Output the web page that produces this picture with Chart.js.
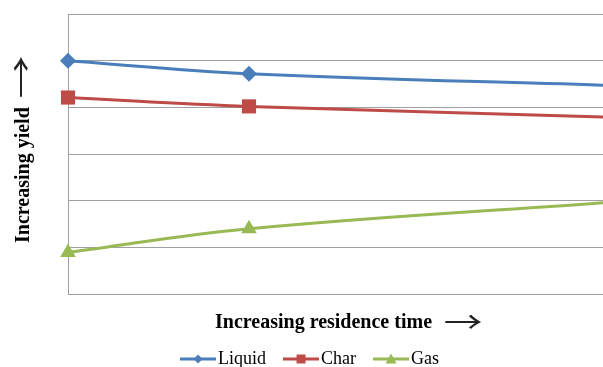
<!DOCTYPE html>
<html>
<head>
<meta charset="utf-8">
<script src="https://cdn.jsdelivr.net/npm/chart.js@4.4.0/dist/chart.umd.min.js"></script>
<style>
  html, body { margin: 0; padding: 0; background: #fff; }
</style>
</head>
<body>
<canvas id="chart" width="603" height="367"></canvas>
<script>
// residence time positions (arbitrary units), last point lies past the cropped right edge
const times = [0, 1, 3];
const liquid = [5.0, 4.72, 4.47];
const charYield = [4.21, 4.02, 3.79];
const gas = [0.89, 1.4, 1.97];
const seriesNames = ['Liquid', 'Char', 'Gas'];
const xTitle = 'Increasing residence time';
const yTitle = 'Increasing yield';
const arrow = '\u2192';
const colors = ['#4a7ebb', '#be4b48', '#98b954'];
const markers = ['rectRot', 'rect', 'triangle'];
const markerSizes = [8, 10, 9];
const yMax = 6;
const xMax = 2.956;

const grey = '#a0a0a0';
const serif = "'Liberation Serif', 'Times New Roman', serif";
const arrowFont = "29px 'Noto Sans CJK JP'";

// small line+marker picture for legend entries
function legendSample(color, style) {
  const c = document.createElement('canvas');
  c.width = 36; c.height = 12;
  const g = c.getContext('2d');
  g.strokeStyle = color; g.fillStyle = color; g.lineWidth = 3;
  g.beginPath(); g.moveTo(0, 6); g.lineTo(36, 6); g.stroke();
  g.beginPath();
  if (style === 'rectRot') {
    g.moveTo(18, 1.5); g.lineTo(22.5, 6); g.lineTo(18, 10.5); g.lineTo(13.5, 6);
  } else if (style === 'rect') {
    g.rect(13.5, 1.5, 9, 9);
  } else {
    g.moveTo(18, 0.5); g.lineTo(23.5, 10.5); g.lineTo(12.5, 10.5);
  }
  g.closePath(); g.fill();
  return c;
}

function makeSet(i, values) {
  return {
    label: seriesNames[i],
    data: times.map((t, k) => ({ x: t, y: values[k] })),
    borderColor: colors[i],
    backgroundColor: colors[i],
    borderWidth: 3,
    tension: 0.4,
    clip: 12,
    pointStyle: markers[i],
    pointRadius: times.map((t) => t <= xMax ? markerSizes[i] : 0),
    pointBorderWidth: 0,
    pointHoverRadius: 0,
    legendPic: legendSample(colors[i], markers[i])
  };
}

const nudgeLegend = {
  id: 'nudgeLegend',
  afterLayout(chart) {
    const l = chart.legend;
    l.left += 11.5; l.right += 11.5;
    l.top += 11; l.bottom += 11;
  }
};

// find the ink box of the arrow glyph once, on a scratch canvas
function arrowInk() {
  const c = document.createElement('canvas');
  c.width = 120; c.height = 80;
  const g = c.getContext('2d');
  g.font = arrowFont;
  g.fillStyle = '#000';
  g.textBaseline = 'alphabetic';
  g.fillText(arrow, 30, 50);
  const px = g.getImageData(0, 0, c.width, c.height).data;
  let x0 = 999, x1 = -1, y0 = 999, y1 = -1;
  for (let y = 0; y < c.height; y++) {
    for (let x = 0; x < c.width; x++) {
      if (px[(y * c.width + x) * 4 + 3] > 40) {
        x0 = Math.min(x0, x); x1 = Math.max(x1, x + 1);
        y0 = Math.min(y0, y); y1 = Math.max(y1, y + 1);
      }
    }
  }
  return { dx: 30 - x0, dy: 50 - (y0 + y1) / 2, w: x1 - x0 };
}

// long thin arrow: glyph stretched along its length so its ink spans `len` px
function drawArrow(ctx, ink, x, y, len, angle) {
  ctx.save();
  ctx.font = arrowFont;
  ctx.translate(x, y);
  ctx.rotate(angle);
  ctx.scale(len / ink.w, 1);
  ctx.textAlign = 'left';
  ctx.textBaseline = 'alphabetic';
  ctx.fillStyle = '#222';
  ctx.fillText(arrow, ink.dx, ink.dy);
  ctx.restore();
}

const axisTitles = {
  id: 'axisTitles',
  afterDraw(chart) {
    const ctx = chart.ctx;
    ctx.save();
    ctx.fillStyle = '#000';
    ctx.font = 'bold 20px ' + serif;
    ctx.textAlign = 'left';
    ctx.textBaseline = 'alphabetic';
    ctx.fillText(xTitle, 215, 327.5);
    ctx.save();
    ctx.translate(28.5, 243);
    ctx.rotate(-Math.PI / 2);
    ctx.fillText(yTitle, 0, 0);
    ctx.restore();
    ctx.restore();
    const ink = arrowInk();
    drawArrow(ctx, ink, 445, 321.5, 36, 0);
    drawArrow(ctx, ink, 20.5, 97, 40, -Math.PI / 2);
  }
};

new Chart(document.getElementById('chart'), {
  type: 'line',
  data: {
    datasets: [makeSet(0, liquid), makeSet(1, charYield), makeSet(2, gas)]
  },
  plugins: [nudgeLegend, axisTitles],
  options: {
    responsive: false,
    animation: false,
    layout: { autoPadding: false, padding: { top: 14, right: 0, bottom: 0, left: 0 } },
    plugins: {
      tooltip: { enabled: false },
      legend: {
        position: 'bottom',
        labels: {
          usePointStyle: true,
          pointStyleWidth: 22,
          padding: 24,
          color: '#000',
          font: { family: serif, size: 18 },
          generateLabels(chart) {
            return chart.data.datasets.map((ds, i) => ({
              text: ds.label,
              pointStyle: ds.legendPic,
              fontColor: '#000',
              lineWidth: 0,
              datasetIndex: i
            }));
          }
        }
      }
    },
    scales: {
      x: {
        type: 'linear',
        min: 0,
        max: xMax,
        afterFit(scale) { scale.height = scale.chart.height - 294 - scale.chart.legend.height; },
        grid: { display: false },
        border: { display: true, color: grey, width: 1 },
        ticks: { display: false },
        title: { display: false }
      },
      y: {
        min: 0,
        max: yMax,
        afterFit(scale) { scale.width = 68; },
        ticks: { display: false, stepSize: 1 },
        grid: { color: grey, drawTicks: false },
        border: { display: true, color: grey, width: 1 },
        title: { display: false }
      }
    }
  }
});
</script>
</body>
</html>
